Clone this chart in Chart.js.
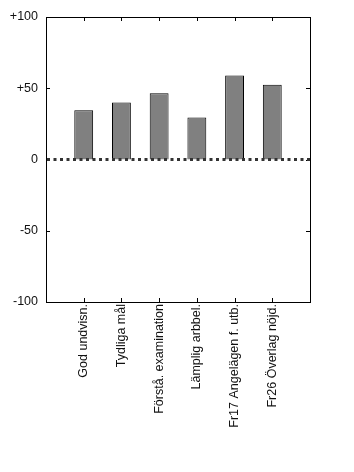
<!DOCTYPE html>
<html>
<head>
<meta charset="utf-8">
<script src="https://cdn.jsdelivr.net/npm/chart.js@4"></script>
<style>
  body { margin: 0; background: #fff; }
  canvas { display: block; }
</style>
</head>
<body>
<canvas id="chart" width="354" height="472"></canvas>
<script>
const categories = ['God undvisn.', 'Tydliga mål', 'Förstå. examination', 'Lämplig arbbel.', 'Fr17 Angelägen f. utb.', 'Fr26 Överlag nöjd.'];
const values = [34.5, 40, 46.5, 29.5, 59, 52.5];
const yTicks = [-100, -50, 0, 50, 100];

// empty slots at both ends so the axis runs from 0 to 7
const labels = [''].concat(categories, ['']);
const barData = [null].concat(values, [null]);

const font = { family: '"Liberation Sans", Arial, sans-serif', size: 12.5 };

// box, inward ticks and the dotted zero line
const frame = {
    id: 'frame',
    afterDatasetsDraw(chart) {
        const ctx = chart.ctx;
        const a = chart.chartArea;
        const x = chart.scales.x;
        const y = chart.scales.y;
        ctx.save();
        ctx.strokeStyle = '#000';
        ctx.lineWidth = 1;
        ctx.strokeRect(Math.round(a.left) + 0.5, Math.round(a.top) + 0.5,
            Math.round(a.right - a.left), Math.round(a.bottom - a.top));
        ctx.beginPath();
        for (let i = 1; i <= categories.length; i++) {
            const px = Math.round(x.getPixelForValue(i)) + 0.5;
            ctx.moveTo(px, a.bottom); ctx.lineTo(px, a.bottom - 4);
            ctx.moveTo(px, a.top); ctx.lineTo(px, a.top + 4);
        }
        yTicks.forEach(v => {
            const py = Math.round(y.getPixelForValue(v)) + 0.5;
            ctx.moveTo(a.left, py); ctx.lineTo(a.left + 4, py);
            ctx.moveTo(a.right, py); ctx.lineTo(a.right - 4, py);
        });
        ctx.stroke();

        const zy = y.getPixelForValue(0);
        ctx.strokeStyle = '#333';
        ctx.lineWidth = 3;
        ctx.setLineDash([3, 3.5]);
        ctx.beginPath();
        ctx.moveTo(a.left + 1, zy);
        ctx.lineTo(a.right, zy);
        ctx.stroke();
        ctx.restore();
    }
};

new Chart(document.getElementById('chart'), {
    type: 'bar',
    data: {
        labels: labels,
        datasets: [{
            data: barData,
            backgroundColor: '#808080',
            borderColor: '#000',
            borderWidth: 1,
            barPercentage: 0.5,
            categoryPercentage: 1
        }]
    },
    options: {
        responsive: false,
        animation: false,
        layout: { padding: { top: 17, right: 44, left: 0, bottom: 0 } },
        plugins: { legend: { display: false }, tooltip: { enabled: false } },
        scales: {
            x: {
                offset: false,
                grid: { display: false, drawTicks: false },
                border: { display: false },
                ticks: {
                    font: font,
                    color: '#111',
                    minRotation: 90,
                    maxRotation: 90,
                    padding: 2,
                    autoSkip: false
                },
                afterFit(scale) { scale.height = 170; }
            },
            y: {
                min: -100,
                max: 100,
                grid: { display: false, drawTicks: false },
                border: { display: false },
                afterBuildTicks(scale) { scale.ticks = yTicks.map(v => ({ value: v })); },
                ticks: {
                    font: font,
                    color: '#111',
                    padding: 8,
                    callback: v => v > 0 ? '+' + v : String(v)
                },
                afterFit(scale) { scale.width = 46; }
            }
        }
    },
    plugins: [frame]
});
</script>
</body>
</html>
